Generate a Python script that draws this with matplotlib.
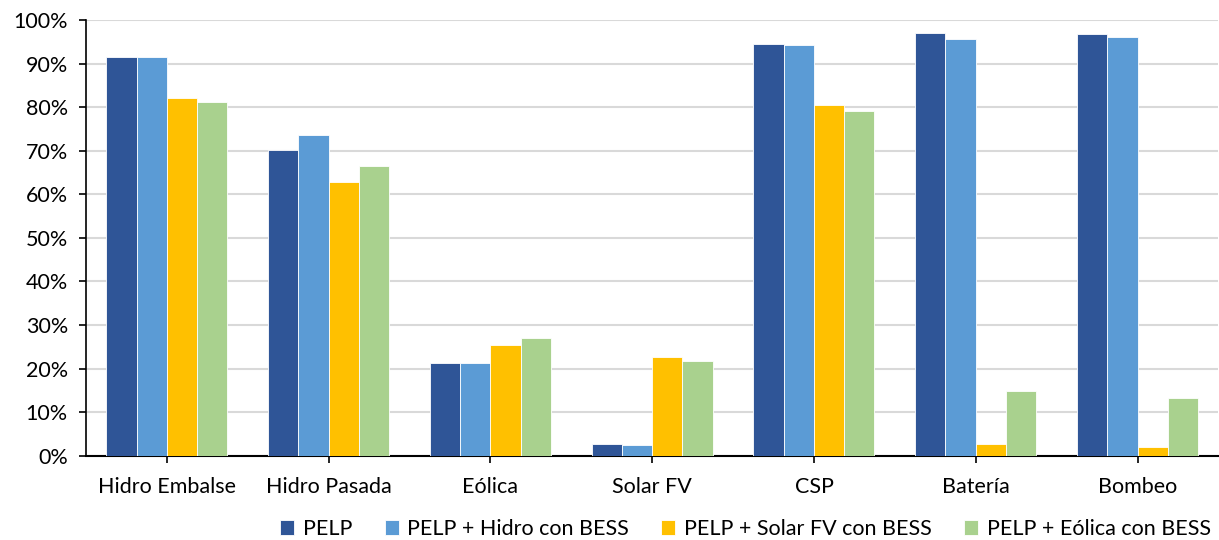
import numpy as np
import matplotlib
matplotlib.use("Agg")
import matplotlib.pyplot as plt
from matplotlib.ticker import PercentFormatter

plt.rcParams['font.family'] = ['Lato', 'DejaVu Sans']

categories = ['Hidro Embalse', 'Hidro Pasada', 'Eólica', 'Solar FV', 'CSP', 'Batería', 'Bombeo']
series_names = ['PELP', 'PELP + Hidro con BESS', 'PELP + Solar FV con BESS', 'PELP + Eólica con BESS']
pelp = [91.4, 70.1, 21.2, 2.7, 94.5, 97.1, 96.8]
pelp_hidro = [91.4, 73.5, 21.3, 2.4, 94.2, 95.6, 96.1]
pelp_solar = [82.1, 62.8, 25.5, 22.6, 80.6, 2.7, 2.1]
pelp_eolica = [81.1, 66.6, 27.1, 21.7, 79.0, 14.8, 13.3]
colors = ['#2F5597', '#5B9BD5', '#FFC000', '#A9D18E']

fig = plt.figure(figsize=(12.19, 5.4), dpi=100)
ax = fig.add_axes([0.0705, 0.156, 0.929, 0.807])

x = np.arange(len(categories))
w = 0.187
data = [pelp, pelp_hidro, pelp_solar, pelp_eolica]
for i, vals in enumerate(data):
    ax.bar(x + (i - 1.5) * w, vals, w, color=colors[i], edgecolor='white',
           linewidth=0.6, label=series_names[i], zorder=3)

ax.set_xlim(-0.5, len(categories) - 0.5)
ax.set_ylim(0, 100)
ax.set_yticks(np.arange(0, 101, 10))
ax.yaxis.set_major_formatter(PercentFormatter(decimals=0))
ax.set_xticks(x)
ax.set_xticklabels(categories)
ax.grid(axis='y', color='#D9D9D9', linewidth=1.5, zorder=0)
for s in ['top', 'right']:
    ax.spines[s].set_visible(False)
ax.spines['left'].set_linewidth(1.2)
ax.spines['bottom'].set_linewidth(1.5)
ax.tick_params(axis='both', labelsize=15.5, direction='out', length=5, width=1.2)
ax.tick_params(axis='x', pad=10)
ax.tick_params(axis='y', pad=8)

fig.legend(loc='lower right', bbox_to_anchor=(1.009, -0.034), ncol=4, frameon=False,
           fontsize=15.5, handlelength=0.65, handleheight=0.65, handletextpad=0.4,
           columnspacing=1.5)

fig.savefig('out.png', dpi=100)
